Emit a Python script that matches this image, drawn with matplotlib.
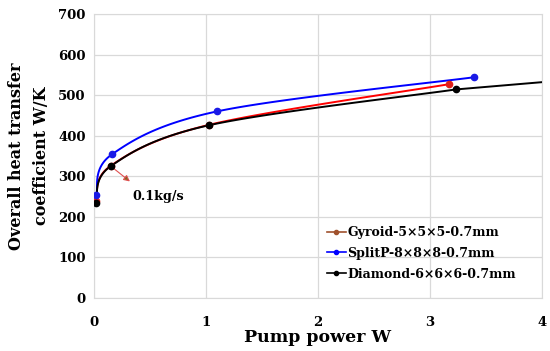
import numpy as np
import matplotlib
matplotlib.use('Agg')
import matplotlib.pyplot as plt

# %% Data.
gyroid_x = [0.02, 0.15, 1.03, 3.17]
gyroid_y = [238, 326, 427, 527]
splitp_x = [0.02, 0.16, 1.10, 3.39]
splitp_y = [254, 354, 460, 544]
diamond_x = [0.02, 0.15, 1.03, 3.23]
diamond_y = [235, 325, 426, 514]
diamond_trend_x = [3.23, 4.0]
diamond_trend_y = [514, 532]

labels = ['Gyroid-5×5×5-0.7mm', 'SplitP-8×8×8-0.7mm', 'Diamond-6×6×6-0.7mm']
colors = ['#FF0000', '#0000FF', '#000000']
marker_colors = ['#E0201A', '#1A1AE6', '#000000']
legend_colors = ['#A0522D', '#0000FF', '#000000']


def smooth(xs, ys, n=40):
    # Excel-like smoothed line (Catmull-Rom through the points).
    px = np.r_[xs[0], xs, xs[-1]].astype(float)
    py = np.r_[ys[0], ys, ys[-1]].astype(float)
    t = np.linspace(0, 1, n)
    ox, oy = [], []
    for i in range(1, len(px) - 2):
        for p, o in [(px, ox), (py, oy)]:
            p0, p1, p2, p3 = p[i - 1], p[i], p[i + 1], p[i + 2]
            o.extend(0.5 * (2 * p1 + (-p0 + p2) * t + (2 * p0 - 5 * p1 + 4 * p2 - p3) * t ** 2
                            + (-p0 + 3 * p1 - 3 * p2 + p3) * t ** 3))
    return np.array(ox), np.array(oy)


plt.rcParams['font.family'] = ['DejaVu Serif']
plt.rcParams['font.weight'] = 'bold'

fig = plt.figure(figsize=(5.5, 3.51), dpi=100)
ax = fig.add_axes([94 / 550, 1 - 298 / 351, 448 / 550, 284 / 351])

series = [(gyroid_x, gyroid_y), (splitp_x, splitp_y), (diamond_x, diamond_y)]
for (xs, ys), lab, col, mcol, lcol in zip(series, labels, colors, marker_colors, legend_colors):
    sx, sy = smooth(xs, ys)
    ax.plot(sx, sy, color=col, linewidth=1.4, zorder=3)
    ax.plot(xs, ys, 'o', color=mcol, markersize=4.5, zorder=4)
    # legend proxy
    ax.plot([], [], '-o', color=lcol, linewidth=1.2, markersize=3, label=lab)

ax.plot(diamond_trend_x, diamond_trend_y, color='black', linewidth=1.4, zorder=3)

# Annotation.
ax.annotate('', xy=(0.34, 283), xytext=(0.15, 325),
            arrowprops=dict(arrowstyle='-|>', ec='#E05050', fc='#7A6A20', lw=0.8,
                            mutation_scale=9))
ax.text(0.34, 251, '0.1kg/s', fontsize=9.2, fontweight='bold', va='center', ha='left')

ax.set_xlim(0, 4)
ax.set_ylim(0, 700)
ax.set_xticks([0, 1, 2, 3, 4])
ax.set_yticks(range(0, 701, 100))
ax.grid(True, color='#D9D9D9', linewidth=0.9)
ax.set_axisbelow(True)
for sp in ax.spines.values():
    sp.set_color('#D9D9D9')
ax.tick_params(length=0, labelsize=9.5)
ax.tick_params(axis='y', pad=6)
ax.tick_params(axis='x', pad=13)
for lbl in ax.get_xticklabels() + ax.get_yticklabels():
    lbl.set_fontweight('bold')

ax.set_xlabel('Pump power W', fontsize=12.5, fontweight='bold', va='center')
ax.xaxis.set_label_coords(0.5, (298 - 338) / 284)
ax.set_ylabel('Overall heat transfer\ncoefficient W/K', fontsize=11.5, fontweight='bold',
              linespacing=1.6, va='center')
ax.yaxis.set_label_coords((29 - 94) / 448, 0.5)

ax.legend(loc='upper left', bbox_to_anchor=((327 - 94) / 448, (298 - 226) / 284),
          frameon=False, handlelength=1.5, handletextpad=0.1, borderaxespad=0,
          borderpad=0, labelspacing=0.62, prop={'weight': 'bold', 'size': 9})

fig.savefig('out.png', dpi=100)
